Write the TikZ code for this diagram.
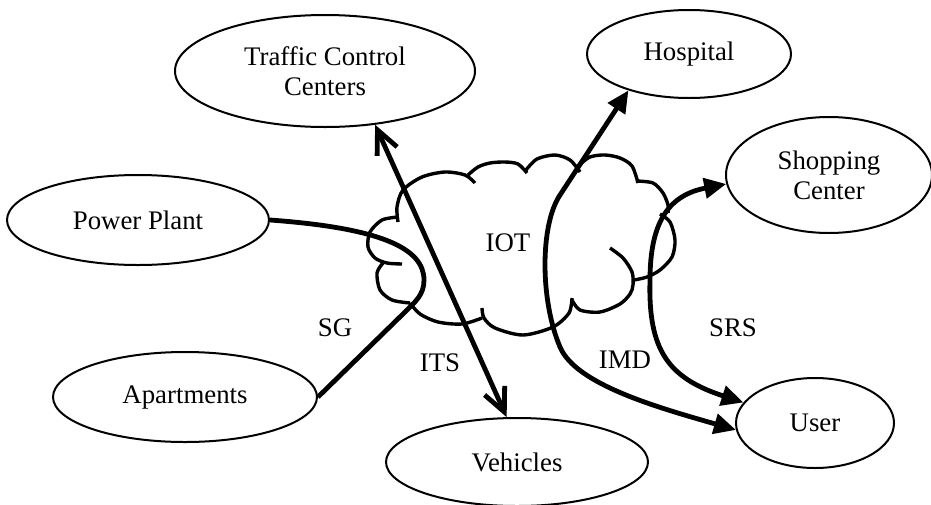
\documentclass[tikz,border=0pt]{standalone}
\usepackage{fontspec}
\setmainfont{Liberation Serif}
\usetikzlibrary{arrows.meta, shapes.geometric}

\begin{document}
\begin{tikzpicture}[
    x=0.5pt, y=-0.5pt,
    font=\fontsize{13.4}{15}\selectfont,
    site/.style 2 args={
        ellipse, draw, line width=1pt,
        minimum width=#1, minimum height=#2,
        inner sep=0pt, align=center
    },
    puff/.style={line width=1.7pt},
    link/.style={line width=2.4pt},
    barb/.style={{Straight Barb[angle=50:13pt]}-{Straight Barb[angle=50:13pt]}},
    tri/.style={{Triangle[length=11pt,width=10pt]}-{Triangle[length=11pt,width=10pt]}}
]
\useasboundingbox (0,0) rectangle (931,504);

% Sites
\node[site={150pt}{56pt}] (tcc) at (325,71) {Traffic Control\\Centers};
\node[site={102pt}{44pt}] (hos) at (689,54) {Hospital};
\node[site={103pt}{58pt}] (shop) at (829,175) {Shopping\\Center};
\node[site={131pt}{45pt}] (pp) at (138,220) {Power Plant};
\node[site={132pt}{45pt}] (apt) at (185,397) {Apartments};
\node[site={131pt}{44pt}] (veh) at (517,462) {Vehicles};
\node[site={79pt}{45pt}] (usr) at (815,423) {User};

% Cloud
\draw[puff] plot[smooth] coordinates {(398,222) (397,207) (403,190) (422,177) (445,172) (465,175) (475,183)};
\draw[puff] plot[smooth] coordinates {(468,175) (478,167) (490,163) (505,162) (518,164) (527,173)};
\draw[puff] plot[smooth] coordinates {(526,170) (537,159) (555,155) (570,160) (580,172)};
\draw[puff] plot[smooth] coordinates {(578,166) (590,157) (605,155) (620,158) (632,166) (638,183)};
\draw[puff] plot[smooth] coordinates {(636,181) (653,183) (663,193) (668,205) (668,213)};
\draw[puff] plot[smooth] coordinates {(660,214) (670,222) (675,240) (672,257) (660,270) (647,277) (634,280)};
\draw[puff] plot[smooth] coordinates {(610,248) (623,258) (632,272) (633,285) (630,294) (620,304) (600,312) (580,310) (572,300)};
\draw[puff] plot[smooth] coordinates {(572,298) (569,313) (553,327) (523,335) (495,328) (484,318) (482,308)};
\draw[puff] plot[smooth] coordinates {(482,318) (462,324) (438,322) (420,314) (410,303)};
\draw[puff] plot[smooth] coordinates {(410,303) (392,300) (380,290) (377,273) (383,263)};
\draw[puff] plot[smooth] coordinates {(398,217) (382,220) (370,232) (368,247) (375,258) (387,263) (402,264)};
\node (iot) at (508,243) {IOT};

% Links
\draw[link] (pp.east) .. controls (380,228) and (424,248) .. (424,280)
    .. controls (424,295) and (415,302) .. (405,312) -- (apt.east);
\draw[link, barb] (tcc.-47) -- (veh.103);
\draw[link, tri] (hos.-149) -- (560,195)
    .. controls (540,225) and (540,300) .. (560,347)
    .. controls (576,385) and (660,408) .. (usr.-175);
\draw[link, tri] (shop.185) .. controls (670,195) and (650,220) .. (650,280)
    .. controls (648,350) and (668,378) .. (usr.164);

% Labels
\node (sg) at (335,328) {SG};
\node (its) at (440,363) {ITS};
\node (imd) at (625,360) {IMD};
\node (srs) at (733,328) {SRS};

\end{tikzpicture}
\end{document}
